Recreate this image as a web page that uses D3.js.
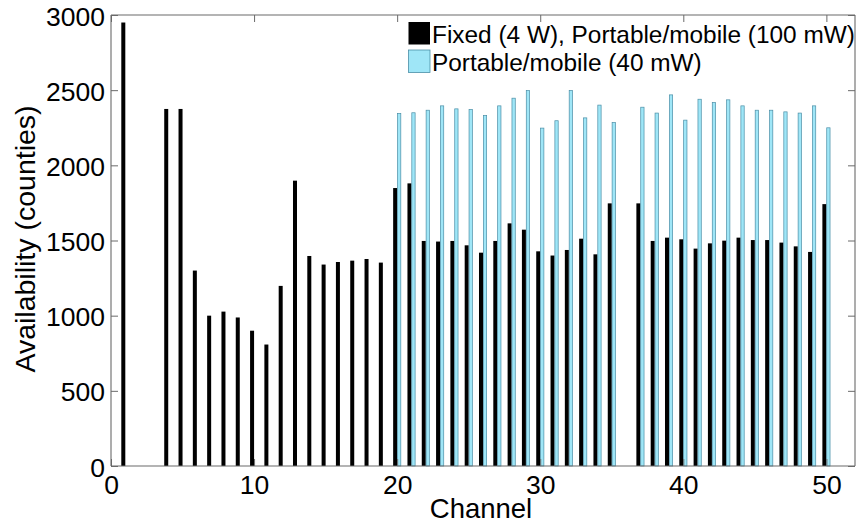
<!DOCTYPE html>
<html>
<head>
<meta charset="utf-8">
<script src="https://cdn.jsdelivr.net/npm/d3@7"></script>
<style>
  html, body { margin: 0; padding: 0; background: #fff; }
  svg { display: block; font-family: "Liberation Sans", Arial, Helvetica, sans-serif; }
</style>
</head>
<body>
<svg id="chart" width="857" height="527"></svg>
<script>
// ---- data ----
const channels = d3.range(1, 51);
const fixedValues = [
  2950, null, null, 2375, 2375, 1300, 1000, 1027, 988, 900,
  808, 1198, 1898, 1397, 1340, 1357, 1366, 1377, 1353, 1849,
  1880, 1497, 1493, 1497, 1468, 1419, 1497, 1614, 1572, 1428,
  1400, 1437, 1512, 1408, 1747, null, 1747, 1497, 1519, 1508,
  1446, 1481, 1499, 1519, 1503, 1503, 1486, 1461, 1424, 1742
];
const portableValues = [
  null, null, null, null, null, null, null, null, null, null,
  null, null, null, null, null, null, null, null, null, 2347,
  2352, 2369, 2398, 2378, 2374, 2334, 2398, 2449, 2500, 2250,
  2299, 2500, 2318, 2403, 2287, null, 2389, 2350, 2471, 2303,
  2442, 2420, 2438, 2398, 2369, 2369, 2358, 2350, 2398, 2252
];
const seriesNames = ["Fixed (4 W), Portable/mobile (100 mW)", "Portable/mobile (40 mW)"];
const xTicks = [0, 10, 20, 30, 40, 50];
const yTicks = [0, 500, 1000, 1500, 2000, 2500, 3000];
const xLabel = "Channel";
const yLabel = "Availability (counties)";

// ---- layout ----
const svg = d3.select("#chart");
const pLeft = 111, pRight = 855, pTop = 15, pBottom = 466;
const x = d3.scaleLinear().domain([0, 52]).range([pLeft, pRight]);
const y = d3.scaleLinear().domain([0, 3000]).range([pBottom, pTop]);
const barW = x(0.28) - x(0);
const blackCol = "#000000";
const blueCol = "#9fe6f7";
const blueEdge = "#4a8ea6";
const axisCol = "#6a6a6a";

svg.append("rect").attr("width", 857).attr("height", 527).attr("fill", "#fff");

const rows = channels.map((c, i) => ({ c, f: fixedValues[i], p: portableValues[i] }));

// fixed bars (left of channel)
svg.append("g").selectAll("rect")
  .data(rows.filter(d => d.f != null))
  .join("rect")
  .attr("x", d => x(d.c) - barW)
  .attr("width", barW)
  .attr("y", d => y(d.f))
  .attr("height", d => y(0) - y(d.f))
  .attr("fill", blackCol);

// portable bars (right of channel)
svg.append("g").selectAll("rect")
  .data(rows.filter(d => d.p != null))
  .join("rect")
  .attr("x", d => x(d.c) + 0.35)
  .attr("width", barW - 0.7)
  .attr("y", d => y(d.p) + 0.35)
  .attr("height", d => y(0) - y(d.p) - 0.35)
  .attr("fill", blueCol)
  .attr("stroke", blueEdge)
  .attr("stroke-width", 0.7);

// axes (MATLAB style box, inward ticks)
const tickLen = 7;
const fs = 26.5;
const axB = svg.append("g").attr("transform", `translate(0,${pBottom})`)
  .call(d3.axisBottom(x).tickValues(xTicks).tickSize(-tickLen).tickPadding(11).tickFormat(d3.format("d")));
const axT = svg.append("g").attr("transform", `translate(0,${pTop})`)
  .call(d3.axisTop(x).tickValues(xTicks).tickSize(-tickLen).tickFormat(""));
const axL = svg.append("g").attr("transform", `translate(${pLeft},0)`)
  .call(d3.axisLeft(y).tickValues(yTicks).tickSize(-tickLen).tickPadding(6).tickFormat(d3.format("d")));
const axR = svg.append("g").attr("transform", `translate(${pRight},0)`)
  .call(d3.axisRight(y).tickValues(yTicks).tickSize(-tickLen).tickFormat(""));

[axB, axT, axL, axR].forEach(g => {
  g.select(".domain").attr("stroke", axisCol).attr("stroke-width", 1.1);
  g.selectAll(".tick line").attr("stroke", axisCol).attr("stroke-width", 1);
  g.selectAll("text").attr("fill", "#000").style("font-size", fs + "px")
    .style("font-family", '"Liberation Sans", Arial, sans-serif');
});
axB.selectAll(".tick text").attr("dy", null).attr("y", 28);
axL.selectAll(".tick text").attr("dy", null).attr("y", 10);
axB.select(".domain").attr("d", `M${pLeft},0H${pRight}`);
axT.select(".domain").attr("d", `M${pLeft},0H${pRight}`);
axL.select(".domain").attr("d", `M0,${pTop}V${pBottom}`);
axR.select(".domain").attr("d", `M0,${pTop}V${pBottom}`);

// axis labels
svg.append("text")
  .attr("x", (pLeft + pRight) / 2 - 2).attr("y", 518)
  .attr("text-anchor", "middle")
  .style("font-size", "27.5px")
  .text(xLabel);
svg.append("text")
  .attr("transform", `translate(35,239) rotate(-90)`)
  .attr("text-anchor", "middle")
  .style("font-size", "28.5px")
  .text(yLabel);

// legend
const leg = svg.append("g");
const legRows = [
  { name: seriesNames[0], fill: blackCol, stroke: "none", y0: 22, base: 43 },
  { name: seriesNames[1], fill: blueCol, stroke: blueEdge, y0: 50, base: 71 }
];
legRows.forEach(r => {
  leg.append("rect").attr("x", 408.5).attr("y", r.y0).attr("width", 21.5).attr("height", 22.5)
    .attr("fill", r.fill).attr("stroke", r.stroke).attr("stroke-width", 0.8);
  leg.append("text").attr("x", 432).attr("y", r.base)
    .style("font-size", "24.4px").text(r.name);
});
</script>
</body>
</html>
